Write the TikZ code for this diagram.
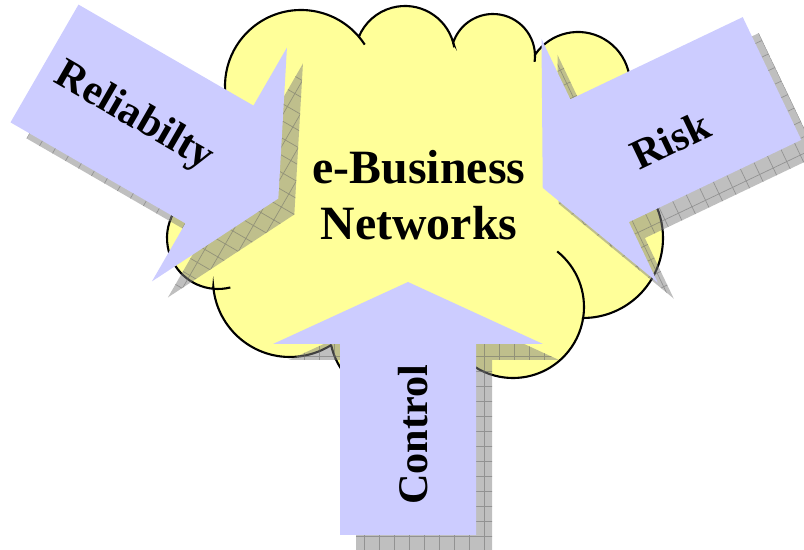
\documentclass[tikz,border=0pt]{standalone}
\usepackage{fontspec}
\setmainfont{Liberation Serif}
\usetikzlibrary{calc}

\definecolor{cloudyellow}{HTML}{FFFF99}
\definecolor{arrowblue}{HTML}{CCCCFF}

% block arrow in its own frame: tail at the origin, pointing along +x
\newcommand{\blockarrow}[2]{(0,-68) -- (#1,-68) -- (#1,-135) -- ({#1+#2},0) -- (#1,135) -- (#1,68) -- (0,68) -- cycle}

\begin{document}
\begin{tikzpicture}[x=0.025cm, y=0.025cm,
    cloud/.style={fill=cloudyellow, draw=black, line width=1.5pt},
    cloudline/.style={draw=black, line width=1.5pt},
    arrowbody/.style={fill=arrowblue},
    shadowbody/.style={fill=gray, fill opacity=0.5},
    gridline/.style={draw=black!60, opacity=0.5, line width=0.5pt},
    arrowtext/.style={font=\fontsize{30}{36}\selectfont\bfseries, inner sep=0pt},
    maintext/.style={font=\fontsize{34}{40}\selectfont\bfseries, align=center, inner sep=0pt}]

    \useasboundingbox (0,0) rectangle (804,550);
    \clip (0,0) rectangle (804,550);

    % Lobe centres of the cloud
    \coordinate (cL)   at (218,312);
    \coordinate (cBL)  at (290,270);
    \coordinate (cBM2) at (400,220);
    \coordinate (cBM)  at (513,243);
    \coordinate (cR)   at (583,312);
    \coordinate (cT4)  at (578,466);
    \coordinate (cT3)  at (493,494);
    \coordinate (cT2)  at (405,494);
    \coordinate (cTL)  at (301,464);

    % Cloud
    \path[cloud] ($(cL)+(100:51)$) arc[start angle=100, end angle=264.5, radius=51]
        -- ($(cBL)+(185:77)$) arc[start angle=185, end angle=302, radius=77]
        -- ($(cBM2)+(193:70.5)$) arc[start angle=193, end angle=336.4, radius=70.5]
        -- ($(cBM)+(226.6:71)$) arc[start angle=226.6, end angle=351.9, radius=71]
        -- ($(cR)+(270:80)$) arc[start angle=270, end angle=420, radius=80]
        -- ($(cT4)+(-30:52)$) arc[start angle=-30, end angle=145.8, radius=52]
        -- ($(cT3)+(1.6:42)$) arc[start angle=1.6, end angle=161.5, radius=42]
        -- ($(cT2)+(15.4:50)$) arc[start angle=15.4, end angle=157.2, radius=50]
        -- ($(cTL)+(40.5:76)$) arc[start angle=40.5, end angle=200, radius=76]
        -- cycle;

    % inner arcs of the cloud
    \draw[cloudline] ($(cL)+(264.5:51)$) arc[start angle=264.5, end angle=284, radius=51];
    \draw[cloudline] ($(cBM)+(351.9:71)$) arc[start angle=351.9, end angle=411.5, radius=71];
    \draw[cloudline] ($(cT3)+(1.6:42)$) arc[start angle=1.6, end angle=-8, radius=42];
    \draw[cloudline] ($(cT2)+(15.4:50)$) arc[start angle=15.4, end angle=10, radius=50];
    \draw[cloudline] ($(cTL)+(40.5:76)$) arc[start angle=40.5, end angle=33, radius=76];

    \node[maintext] (title) at (419,355) {e-Business\\Networks};

    % Arrow tails
    \coordinate (relTail)  at (44.5,486.5);
    \coordinate (riskTail) at (772,471.5);
    \coordinate (ctrlTail) at (408,15);

    % Shadows
    \begin{scope}[shift={($(relTail)+(16,-16)$)}, rotate=-30]
        \fill[shadowbody] \blockarrow{202}{68};
        \clip \blockarrow{202}{68};
        \draw[gridline] (-10,-150) grid[step=15] (290,150);
    \end{scope}
    \begin{scope}[shift={($(riskTail)+(16,-16)$)}, rotate=205.5]
        \fill[shadowbody] \blockarrow{191}{63};
        \clip \blockarrow{191}{63};
        \draw[gridline] (-10,-150) grid[step=15] (270,150);
    \end{scope}
    \begin{scope}[shift={($(ctrlTail)+(16,-16)$)}, rotate=90]
        \fill[shadowbody] \blockarrow{191}{62};
        \clip \blockarrow{191}{62};
        \draw[gridline] (-10,-150) grid[step=15] (270,150);
    \end{scope}

    % Arrows
    \begin{scope}[shift={(relTail)}, rotate=-30]
        \fill[arrowbody] \blockarrow{202}{68};
    \end{scope}
    \begin{scope}[shift={(riskTail)}, rotate=205.5]
        \fill[arrowbody] \blockarrow{191}{63};
    \end{scope}
    \begin{scope}[shift={(ctrlTail)}, rotate=90]
        \fill[arrowbody] \blockarrow{191}{62};
    \end{scope}

    % Labels
    \node[arrowtext, rotate=-30] (reliability) at (134,433) {Reliabilty};
    \node[arrowtext, rotate=25.5] (risk) at (670,410) {Risk};
    \node[arrowtext, rotate=90] (control) at (413,115) {Control};
\end{tikzpicture}
\end{document}
